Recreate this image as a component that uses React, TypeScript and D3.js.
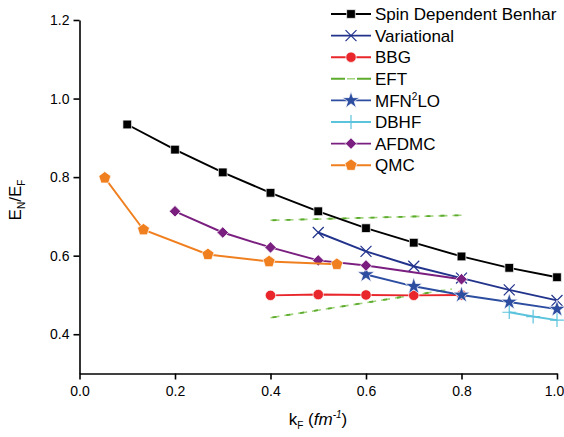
import React, { useEffect, useRef } from "react"
import * as d3 from "d3"

// data
const benharK = [0.1, 0.2, 0.3, 0.4, 0.5, 0.6, 0.7, 0.8, 0.9, 1.0]
const benharE = [0.934, 0.870, 0.812, 0.760, 0.713, 0.670, 0.633, 0.598, 0.569, 0.545]
const variationalK = [0.5, 0.6, 0.7, 0.8, 0.9, 1.0]
const variationalE = [0.659, 0.611, 0.573, 0.543, 0.513, 0.486]
const bbgK = [0.4, 0.5, 0.6, 0.7, 0.8]
const bbgE = [0.499, 0.501, 0.500, 0.499, 0.500]
const eftUpperK = [0.4, 0.8]
const eftUpperE = [0.690, 0.703]
const eftLowerK = [0.4, 0.78]
const eftLowerE = [0.442, 0.515]
const mfnK = [0.6, 0.7, 0.8, 0.9, 1.0]
const mfnE = [0.552, 0.522, 0.500, 0.482, 0.464]
const dbhfK = [0.9, 0.95, 1.0]
const dbhfE = [0.456, 0.445, 0.436]
const afdmcK = [0.2, 0.3, 0.4, 0.5, 0.6, 0.8]
const afdmcE = [0.713, 0.659, 0.621, 0.588, 0.575, 0.540]
const qmcK = [0.053, 0.134, 0.269, 0.397, 0.539]
const qmcE = [0.798, 0.666, 0.603, 0.585, 0.578]

const xTicks = [0, 0.2, 0.4, 0.6, 0.8, 1.0]
const yTicks = [0.4, 0.6, 0.8, 1.0, 1.2]

const symbolPentagon = {
  draw(context: any, size: number) {
    const r = Math.sqrt(size / 2.378)
    for (let i = 0; i < 5; i++) {
      const a = -Math.PI / 2 + (i * 2 * Math.PI) / 5
      const px = r * Math.cos(a)
      const py = r * Math.sin(a)
      if (i === 0) context.moveTo(px, py)
      else context.lineTo(px, py)
    }
    context.closePath()
  },
}

const zip = (k: number[], e: number[]) => k.map((v, i) => ({ k: v, e: e[i] }))

const series = [
  { name: "Spin Dependent Benhar", data: zip(benharK, benharE), color: "#000000", symbol: d3.symbolSquare, size: 76, fill: true },
  { name: "Variational", data: zip(variationalK, variationalE), color: "#22338c", symbol: d3.symbolTimes, size: 80, fill: false },
  { name: "BBG", data: zip(bbgK, bbgE), color: "#e8262b", symbol: d3.symbolCircle, size: 85, fill: true },
  { name: "EFT", data: [], color: "#5cab2e", symbol: null, size: 0, fill: false },
  { name: "MFN2LO", data: zip(mfnK, mfnE), color: "#2c4da0", symbol: d3.symbolStar, size: 90, fill: true },
  { name: "DBHF", data: zip(dbhfK, dbhfE), color: "#5cc3dd", symbol: d3.symbolPlus, size: 64, fill: false },
  { name: "AFDMC", data: zip(afdmcK, afdmcE), color: "#7a1f80", symbol: d3.symbolSquare, size: 66, fill: true, rotate: 45 },
  { name: "QMC", data: zip(qmcK, qmcE), color: "#f07f1f", symbol: symbolPentagon, size: 95, fill: true },
]

export default function App() {
  const ref = useRef<SVGSVGElement>(null)

  useEffect(() => {
    const svg = d3.select(ref.current)
    svg.selectAll("*").remove()

    const x = d3.scaleLinear().domain([0, 1.0]).range([79.5, 557])
    const y = d3.scaleLinear().domain([0.3, 1.2]).range([373.5, 20])
    const font = "Liberation Sans, Arial, sans-serif"

    // axes
    const xAxis = svg.append("g").attr("transform", `translate(0, ${y(0.3)})`)
    xAxis.call(d3.axisBottom(x).tickValues(d3.range(0, 1.01, 0.1)).tickSize(3).tickSizeOuter(0).tickFormat(() => ""))
    xAxis.call(d3.axisBottom(x).tickValues(xTicks).tickSize(6).tickSizeOuter(0).tickFormat(d3.format(".1f")))
    xAxis.selectAll("path, line").attr("stroke", "#000").attr("stroke-width", 1.6)
    xAxis.selectAll("text").attr("font-family", font).attr("font-size", 14).attr("fill", "#000").attr("dy", "0.95em")
    // last label sits against the right edge
    xAxis.selectAll("text").filter((d: any) => d === 1.0).attr("dx", -3)

    const yAxis = svg.append("g").attr("transform", `translate(${x(0)}, 0)`)
    yAxis.call(d3.axisLeft(y).tickValues(d3.range(0.3, 1.21, 0.1)).tickSize(3).tickSizeOuter(0).tickFormat(() => ""))
    yAxis.call(d3.axisLeft(y).tickValues(yTicks).tickSize(6).tickSizeOuter(0).tickFormat(d3.format(".1f")))
    yAxis.selectAll("path, line").attr("stroke", "#000").attr("stroke-width", 1.6)
    yAxis.selectAll("text").attr("font-family", font).attr("font-size", 14).attr("fill", "#000").attr("x", -10)

    // axis titles
    const yt = svg.append("text")
      .attr("transform", "translate(21, 200) rotate(-90)")
      .attr("text-anchor", "middle")
      .attr("font-family", font).attr("font-size", 17)
    yt.append("tspan").text("E")
    yt.append("tspan").attr("font-size", 10).attr("dy", 4).text("N")
    yt.append("tspan").attr("dy", -4).text("/E")
    yt.append("tspan").attr("font-size", 10).attr("dy", 4).text("F")

    const xt = svg.append("text")
      .attr("x", 318).attr("y", 425)
      .attr("text-anchor", "middle")
      .attr("font-family", font).attr("font-size", 17)
    xt.append("tspan").text("k")
    xt.append("tspan").attr("font-size", 10).attr("dy", 4).text("F")
    xt.append("tspan").attr("dy", -4).text(" (")
    xt.append("tspan").attr("font-style", "italic").text("fm")
    xt.append("tspan").attr("font-style", "italic").attr("font-size", 10).attr("dy", -7).text("-1")
    xt.append("tspan").attr("dy", 7).text(")")

    const line = d3.line<{ k: number; e: number }>().x(d => x(d.k)).y(d => y(d.e))

    // EFT band edges
    const eft = [zip(eftUpperK, eftUpperE), zip(eftLowerK, eftLowerE)]
    eft.forEach(d => {
      svg.append("path").datum(d).attr("d", line).attr("fill", "none")
        .attr("stroke", "#9fd37a").attr("stroke-width", 1.6).attr("stroke-dasharray", "9 5")
      svg.append("path").datum(d).attr("d", line).attr("fill", "none")
        .attr("stroke", "#5cab2e").attr("stroke-width", 1.8).attr("stroke-dasharray", "4 10")
        .attr("stroke-dashoffset", -2)
    })

    const drawSymbol = (g: any, s: any, cx: number, cy: number) => {
      if (!s.symbol) return
      g.append("path")
        .attr("d", d3.symbol(s.symbol, s.size)())
        .attr("transform", `translate(${cx}, ${cy}) rotate(${s.rotate || 0})`)
        .attr("fill", s.fill ? s.color : "none")
        .attr("stroke", s.fill ? "#ffffff" : s.color)
        .attr("stroke-width", s.fill ? 0.7 : 1.2)
    }

    series.forEach(s => {
      if (!s.data.length) return
      svg.append("path").datum(s.data).attr("d", line).attr("fill", "none")
        .attr("stroke", s.color).attr("stroke-width", 1.9)
      const g = svg.append("g")
      s.data.forEach(d => drawSymbol(g, s, x(d.k), y(d.e)))
    })

    // legend
    const legend = svg.append("g")
    series.forEach((s, i) => {
      const ly = 14 + i * 21.6
      if (s.name === "EFT") {
        legend.append("line").attr("x1", 331).attr("x2", 371).attr("y1", ly).attr("y2", ly)
          .attr("stroke", "#5cab2e").attr("stroke-width", 2).attr("stroke-dasharray", "14 12")
        legend.append("line").attr("x1", 347).attr("x2", 355).attr("y1", ly).attr("y2", ly)
          .attr("stroke", "#9fd37a").attr("stroke-width", 1.5)
      } else {
        legend.append("line").attr("x1", 331).attr("x2", 371).attr("y1", ly).attr("y2", ly)
          .attr("stroke", s.color).attr("stroke-width", 1.9)
        drawSymbol(legend, s, 351, ly)
      }
      const t = legend.append("text").attr("x", 375).attr("y", ly).attr("dy", "0.36em")
        .attr("font-family", font).attr("font-size", 17).attr("fill", "#000")
      if (s.name === "MFN2LO") {
        t.append("tspan").text("MFN")
        t.append("tspan").attr("font-size", 10).attr("dy", -7).text("2")
        t.append("tspan").attr("dy", 7).text("LO")
      } else {
        t.text(s.name)
      }
    })
  }, [])

  return (
    <svg ref={ref} width={564} height={437}
      style={{ position: "absolute", left: 0, top: 0, background: "#fff" }} />
  )
}
